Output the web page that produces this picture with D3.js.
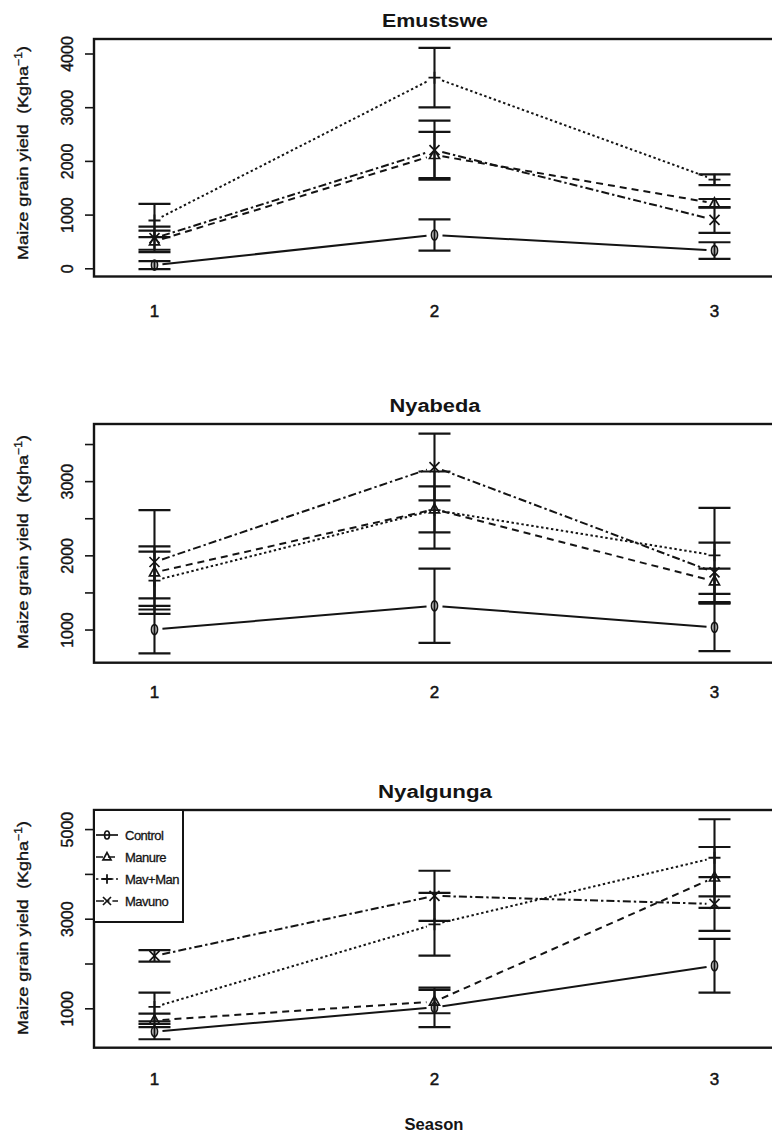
<!DOCTYPE html>
<html>
<head>
<meta charset="utf-8">
<script src="https://cdn.jsdelivr.net/npm/d3@7"></script>
<style>
  body { margin: 0; background: #fff; }
  svg text { font-family: "Liberation Sans", Arial, sans-serif; fill: #141414; }
</style>
</head>
<body>
<div id="chart"></div>
<script>
// seasons on the x axis, sites = one panel each
var seasons = [1, 2, 3];
var sites = ["Emustswe", "Nyabeda", "Nyalgunga"];
var treatments = ["Control", "Manure", "Mav+Man", "Mavuno"];

// mean maize grain yield (Kg/ha), rows = treatments, cols = seasons
var emustsweMeans = [[60, 620, 330], [500, 2110, 1210], [890, 3550, 1650], [560, 2200, 900]];
var nyabedaMeans = [[1000, 1320, 1030], [1770, 2620, 1650], [1660, 2610, 2000], [1910, 3190, 1770]];
var nyalgungaMeans = [[480, 1020, 1950], [730, 1150, 3920], [1030, 2875, 4360], [2170, 3510, 3330]];

// error bar half widths
var emustsweErr = [[75, 290, 155], [200, 430, 80], [310, 555, 100], [215, 550, 240]];
var nyabedaErr = [[320, 500, 320], [350, 310, 170], [390, 520, 640], [700, 450, 400]];
var nyalgungaErr = [[170, 440, 600], [150, 260, 680], [320, 700, 860], [130, 560, 600]];

// y tick values and labels
var emustsweTicks = [0, 1000, 2000, 3000, 4000];
var emustsweTickLabels = ["0", "1000", "2000", "3000", "4000"];
var nyabedaTicks = [1000, 1500, 2000, 2500, 3000, 3500];
var nyabedaTickLabels = ["1000", "", "2000", "", "3000", ""];
var nyalgungaTicks = [1000, 2000, 3000, 4000, 5000];
var nyalgungaTickLabels = ["1000", "", "3000", "", "5000"];

var means = [emustsweMeans, nyabedaMeans, nyalgungaMeans];
var errs = [emustsweErr, nyabedaErr, nyalgungaErr];
var ticks = [emustsweTicks, nyabedaTicks, nyalgungaTicks];
var tickLabels = [emustsweTickLabels, nyabedaTickLabels, nyalgungaTickLabels];

// panel layout (pixels)
var panels = [
  {top: 39, bottom: 276.5, domain: [-153, 4270], titleY: 27, titleW: 106, xlabY: 317, ylabY: 153},
  {top: 424, bottom: 662.7, domain: [553, 3770], titleY: 412, titleW: 91, xlabY: 698, ylabY: 542},
  {top: 810, bottom: 1047.7, domain: [121, 5426], titleY: 798, titleW: 114, xlabY: 1085, ylabY: 928}
];

var width = 772, height = 1136;
var ink = "#141414";
var dashes = [null, "7,5", "2.4,2.6", "8,3,2.4,3"];

var svg = d3.select("#chart").append("svg")
    .attr("width", width)
    .attr("height", height);

// same x scale for every panel
var x = d3.scaleLinear().domain([0.784, 3.3]).range([94, 798.5]);

function marker(g, k, cx, cy, s) {
  s = s || 1;
  if (k === 0) {
    g.append("ellipse").attr("cx", cx).attr("cy", cy)
      .attr("rx", 3 * s).attr("ry", 5 * s)
      .attr("fill", "none").attr("stroke", ink).attr("stroke-width", 1.7);
  } else if (k === 1) {
    g.append("path")
      .attr("d", `M${cx},${cy - 5.5 * s} L${cx + 5 * s},${cy + 3.5 * s} L${cx - 5 * s},${cy + 3.5 * s} Z`)
      .attr("fill", "none").attr("stroke", ink).attr("stroke-width", 1.7);
  } else if (k === 2) {
    g.append("path")
      .attr("d", `M${cx - 6 * s},${cy} H${cx + 6 * s} M${cx},${cy - 6 * s} V${cy + 6 * s}`)
      .attr("stroke", ink).attr("stroke-width", 1.8);
  } else {
    g.append("path")
      .attr("d", `M${cx - 5 * s},${cy - 5 * s} L${cx + 5 * s},${cy + 5 * s} M${cx + 5 * s},${cy - 5 * s} L${cx - 5 * s},${cy + 5 * s}`)
      .attr("stroke", ink).attr("stroke-width", 1.7);
  }
}

panels.forEach(function(p, pi) {
  var y = d3.scaleLinear().domain(p.domain).range([p.bottom, p.top]);
  var g = svg.append("g");

  // title
  g.append("text")
    .attr("x", 435).attr("y", p.titleY)
    .attr("text-anchor", "middle")
    .attr("textLength", p.titleW).attr("lengthAdjust", "spacingAndGlyphs")
    .style("font-family", "'Liberation Sans Narrow', 'Arial Narrow', 'Liberation Sans', sans-serif")
    .style("font-weight", "bold").style("font-size", "18px")
    .text(sites[pi]);

  // y axis with rotated labels
  var yAxis = d3.axisLeft(y)
    .tickValues(ticks[pi])
    .tickFormat(function(d, i) { return tickLabels[pi][i]; })
    .tickSize(9);
  var ag = g.append("g")
    .attr("transform", `translate(${x.range()[0]},0)`)
    .call(yAxis);
  ag.select(".domain").remove();
  ag.selectAll("line").attr("stroke", ink).attr("stroke-width", 1.6);
  ag.selectAll("text")
    .attr("transform", "rotate(-90)")
    .attr("x", 0).attr("y", -21).attr("dy", 0)
    .attr("text-anchor", "middle")
    .attr("stroke", ink).attr("stroke-width", 0.4)
    .style("font-size", "16px").style("fill", ink);

  // y label
  var yl = g.append("text")
    .attr("transform", `translate(28,${p.ylabY}) rotate(-90)`)
    .attr("text-anchor", "middle")
    .attr("textLength", 214).attr("lengthAdjust", "spacingAndGlyphs")
    .attr("stroke", ink).attr("stroke-width", 0.35)
    .style("font-size", "15px");
  yl.append("tspan").text("Maize grain yield\u00a0 (Kgha");
  yl.append("tspan").attr("dy", -6).style("font-size", "10px").text("\u22121");
  yl.append("tspan").attr("dy", 6).text(")");

  // x tick labels
  g.selectAll(".xl").data(seasons).enter().append("text")
    .attr("x", function(d) { return x(d); })
    .attr("y", p.xlabY)
    .attr("text-anchor", "middle")
    .attr("stroke", ink).attr("stroke-width", 0.5)
    .style("font-size", "17px")
    .text(function(d) { return d; });

  // error bars
  treatments.forEach(function(t, k) {
    seasons.forEach(function(s, j) {
      var m = means[pi][k][j], e = errs[pi][k][j];
      var cx = x(s);
      g.append("line")
        .attr("x1", cx).attr("x2", cx)
        .attr("y1", y(m - e)).attr("y2", y(m + e))
        .attr("stroke", ink).attr("stroke-width", 2.1);
      [m - e, m + e].forEach(function(v) {
        g.append("line")
          .attr("x1", cx - 16).attr("x2", cx + 16)
          .attr("y1", y(v)).attr("y2", y(v))
          .attr("stroke", ink).attr("stroke-width", 2.2);
      });
    });
  });

  // lines with a small gap around each point (R type "b")
  treatments.forEach(function(t, k) {
    for (var j = 0; j < seasons.length - 1; j++) {
      var x1 = x(seasons[j]), y1 = y(means[pi][k][j]);
      var x2 = x(seasons[j + 1]), y2 = y(means[pi][k][j + 1]);
      var len = Math.hypot(x2 - x1, y2 - y1), gap = 8;
      var ux = (x2 - x1) / len, uy = (y2 - y1) / len;
      g.append("line")
        .attr("x1", x1 + ux * gap).attr("y1", y1 + uy * gap)
        .attr("x2", x2 - ux * gap).attr("y2", y2 - uy * gap)
        .attr("stroke", ink).attr("stroke-width", 2)
        .attr("stroke-dasharray", dashes[k]);
    }
    seasons.forEach(function(s, j) {
      marker(g, k, x(s), y(means[pi][k][j]));
    });
  });

  // plot box
  g.append("rect")
    .attr("x", x.range()[0]).attr("y", p.top)
    .attr("width", x.range()[1] - x.range()[0])
    .attr("height", p.bottom - p.top)
    .attr("fill", "none").attr("stroke", ink).attr("stroke-width", 2.4);

  // legend in last panel
  if (pi === 2) {
    var lg = g.append("g");
    lg.append("rect")
      .attr("x", x.range()[0]).attr("y", p.top)
      .attr("width", 89).attr("height", 112)
      .attr("fill", "#fff").attr("stroke", ink).attr("stroke-width", 2);
    var rowY = [835, 857, 879, 901];
    treatments.forEach(function(t, k) {
      lg.append("line")
        .attr("x1", 96).attr("x2", 118)
        .attr("y1", rowY[k]).attr("y2", rowY[k])
        .attr("stroke", ink).attr("stroke-width", 1.7)
        .attr("stroke-dasharray", dashes[k]);
      marker(lg, k, 107, rowY[k], 0.8);
      lg.append("text")
        .attr("x", 125).attr("y", rowY[k] + 5)
        .attr("stroke", ink).attr("stroke-width", 0.3)
        .style("font-size", "13px")
        .style("letter-spacing", "-0.5px")
        .text(t);
    });
  }
});

// shared x label
svg.append("text")
  .attr("x", 434).attr("y", 1130)
  .attr("text-anchor", "middle")
  .attr("textLength", 59).attr("lengthAdjust", "spacingAndGlyphs")
  .style("font-family", "'Liberation Sans Narrow', 'Arial Narrow', 'Liberation Sans', sans-serif")
  .style("font-weight", "bold").style("font-size", "16px")
  .text("Season");
</script>
</body>
</html>
